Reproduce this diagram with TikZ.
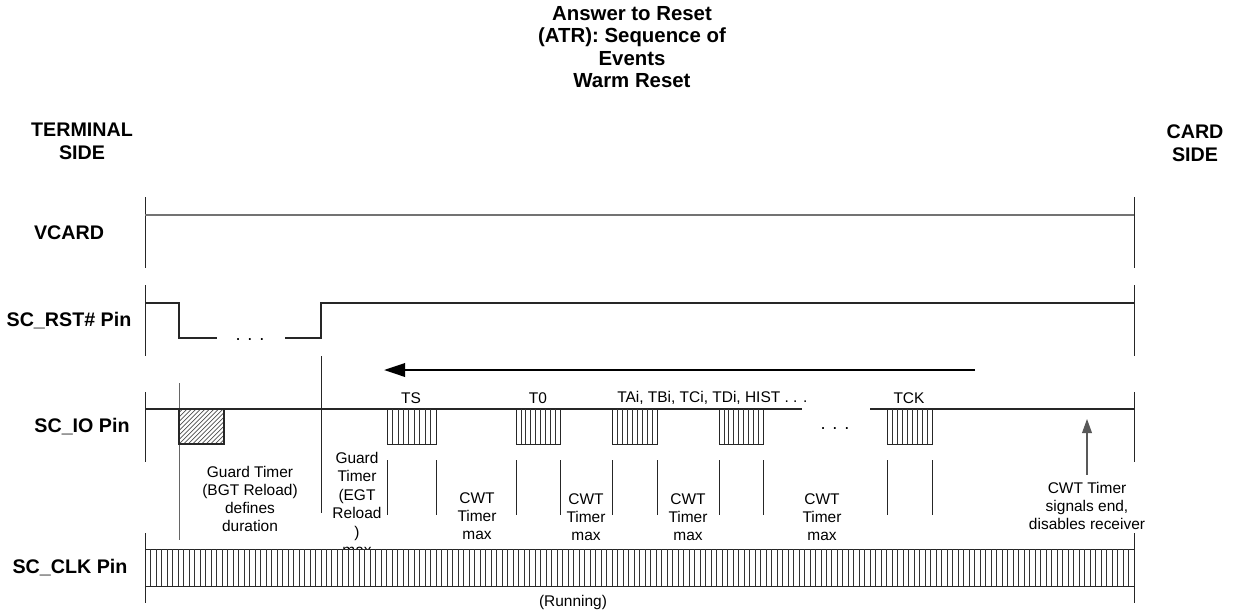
\documentclass[tikz,border=0pt]{standalone}
\usepackage{fontspec}
\setmainfont{Liberation Sans}
\usetikzlibrary{arrows.meta}

\begin{document}
\begin{tikzpicture}[
  x=0.025cm, y=-0.025cm,
  font=\fontsize{11}{13}\selectfont,
  heading/.style={font=\fontsize{14}{16.2}\selectfont\bfseries, align=center, inner sep=0pt},
  pinlabel/.style={font=\fontsize{14}{16}\selectfont\bfseries, inner sep=0pt},
  note/.style={align=center, inner sep=0pt},
  bytelabel/.style={inner sep=0pt},
  sig/.style={line width=0.8pt, black!85},
  tick/.style={line width=0.7pt, black!85},
  guide/.style={line width=0.6pt, black!85},
  databox/.style={draw=black!85, line width=0.7pt, fill=white},
  stripe/.style={line width=0.45pt, black!80},
  hatch/.style={line width=0.5pt, black!70},
  arrow/.style={-{Triangle[length=15pt, width=9.5pt]}, line width=1.8pt},
  uparrow/.style={-{Triangle[length=10pt, width=7pt]}, line width=0.8pt, black!65},
]
\useasboundingbox (0,0) rectangle (1233,613);

% ===== Titles and side labels =====
\node[heading, font=\fontsize{14.5}{15.8}\selectfont\bfseries] (title) at (632,47)
  {Answer to Reset\\(ATR): Sequence of\\Events\\Warm Reset};
\node[heading] (termside) at (82,141) {TERMINAL\\SIDE};
\node[heading] (cardside) at (1195,143) {CARD\\SIDE};

\node[pinlabel] (vcard) at (69,233) {VCARD};
\node[pinlabel] (rst) at (69,321) {SC\_RST\# Pin};
\node[pinlabel] (io) at (82,427) {SC\_IO Pin};
\node[pinlabel] (clk) at (70,568) {SC\_CLK Pin};

% ===== Row ticks (left and right) =====
\foreach \ya/\yb in {197/268, 285/356, 392/462, 533/603} {
  \draw[tick] (145,\ya) -- (145,\yb);
  \draw[tick] (1134,\ya) -- (1134,\yb);
}

% ===== VCARD =====
\draw[line width=1.1pt, black!55] (145,215) -- (1134,215);

% ===== SC_RST# =====
\draw[sig] (145,303) -- (179,303) -- (179,338) -- (217,338);
\draw[sig] (285,338) -- (321,338) -- (321,303) -- (1134,303);
\node[font=\fontsize{13}{13}\selectfont, anchor=base] (rstdots) at (250,340) {. . .};

% guide lines
\draw[guide] (321,356) -- (321,513);
\draw[guide, black!60] (179,383) -- (179,540);

% direction arrow
\coordinate (dirstart) at (975,370);
\coordinate (dirend) at (384,370);
\draw[arrow] (dirstart) -- (dirend);

% ===== SC_IO =====
\draw[sig] (145,409) -- (802,409);
\draw[sig] (870,409) -- (1134,409);
\node[font=\fontsize{13}{13}\selectfont, anchor=base] (iodots) at (835,429) {. . .};

% guard box (hatched)
\begin{scope}
  \clip (179,409) rectangle (224,444);
  \foreach \k in {-36,-31.5,...,46}
    \draw[hatch] (179+\k,444) -- ++(35,-35);
\end{scope}
\draw[draw=black!85, line width=0.8pt] (179,409) rectangle (224,444);

\foreach \bx/\ex in {387/436, 516/560, 612/657, 719/763, 887/932} {
  \draw[databox] (\bx,409) rectangle (\ex,444);
  \pgfmathsetmacro\dx{(\ex-\bx)/9}
  \foreach \i in {1,...,8}
    \draw[stripe] (\bx+\i*\dx,409) -- ++(0,35);
  \draw[guide] (\bx,460) -- (\bx,515);
  \draw[guide] (\ex,460) -- (\ex,515);
}

\node[bytelabel] (ts) at (411,398) {TS};
\node[bytelabel] (t0) at (538,398) {T0};
\node[bytelabel, anchor=west] (tai) at (617,398) {TAi, TBi, TCi, TDi, HIST . . .};
\node[bytelabel] (tck) at (909,398) {TCK};

% ===== Timer notes =====
\node[note] (bgt) at (250,499) {Guard Timer\\(BGT Reload)\\defines\\duration};
\node[note, font=\fontsize{11}{13.2}\selectfont] (egt) at (357,504) {Guard\\Timer\\(EGT\\Reload\\)\\max};
\node[note] (cwt1) at (477,516) {CWT\\Timer\\max};
\node[note] (cwt2) at (586,517) {CWT\\Timer\\max};
\node[note] (cwt3) at (688,517) {CWT\\Timer\\max};
\node[note] (cwt4) at (822,517) {CWT\\Timer\\max};

\node[note] (endnote) at (1087,506) {CWT Timer\\signals end,\\disables receiver};
\coordinate (cwtend) at (1087,419);
\draw[uparrow] ([yshift=5pt]endnote.north) -- (cwtend);

% ===== SC_CLK =====
\draw[databox] (145,549) rectangle (1134,586);
\foreach \i in {1,...,179}
  \draw[stripe] (145+\i*5.4944,549) -- ++(0,37);
\node[note] (running) at (573,602) {(Running)};

\end{tikzpicture}
\end{document}
